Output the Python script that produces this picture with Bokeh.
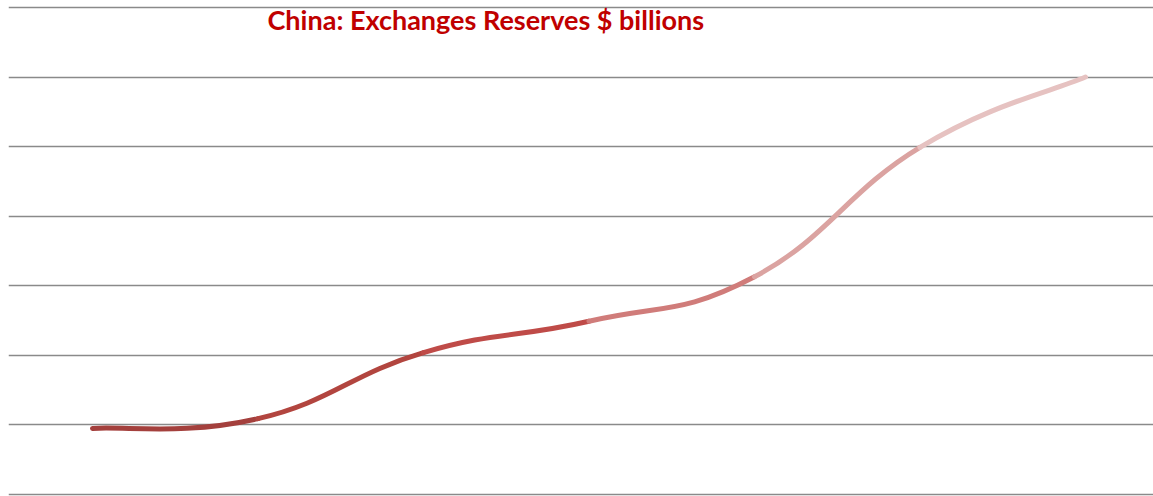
from bokeh.plotting import figure
from bokeh.models import ColumnDataSource, FixedTicker, Label, Range1d
from bokeh.embed import file_html
from bokeh.resources import INLINE

# ---- data ----
periods = [0, 1, 2, 3, 4, 5, 6]
reserves = [475, 545, 1020, 1245, 1565, 2495, 3000]
segment_colors = ["#A4403D", "#B2453F", "#BF4B48", "#D07C7A", "#DBA3A1", "#E6C2C1"]
grid_ticks = [0, 500, 1000, 1500, 2000, 2500, 3000, 3500]
title_text = "China: Exchanges Reserves $ billions"

W, H = 1153, 496
LEFT = 8
px_y = 3500 / 487.0
y_end = 3500 + 7 * px_y
y_start = y_end - H * px_y
px_x = 993 / 6.0
x_start = 0 - (92 - LEFT) / px_x
x_end = x_start + (W - LEFT) / px_x

p = figure(width=W, height=H, output_backend="svg", toolbar_location=None,
           x_range=Range1d(x_start, x_end), y_range=Range1d(y_start, y_end),
           min_border=0, min_border_left=LEFT, min_border_right=0,
           min_border_top=0, min_border_bottom=0)
p.outline_line_color = None
p.axis.visible = False
p.xgrid.visible = False
p.ygrid.ticker = FixedTicker(ticks=grid_ticks)
p.ygrid.grid_line_color = "#8A8A8A"
p.ygrid.grid_line_width = 1.6
p.background_fill_color = "white"
p.border_fill_color = "white"

# smooth curve through the points (Catmull-Rom style Bezier segments)
k = 0.22
n = len(periods)
x0, y0, x1, y1, cx0, cy0, cx1, cy1 = ([] for _ in range(8))
for i in range(n - 1):
    pm = max(i - 1, 0)
    pp = min(i + 2, n - 1)
    x0.append(periods[i]); y0.append(reserves[i])
    x1.append(periods[i + 1]); y1.append(reserves[i + 1])
    cx0.append(periods[i] + k * (periods[i + 1] - periods[pm]))
    cy0.append(reserves[i] + k * (reserves[i + 1] - reserves[pm]))
    cx1.append(periods[i + 1] - k * (periods[pp] - periods[i]))
    cy1.append(reserves[i + 1] - k * (reserves[pp] - reserves[i]))

src = ColumnDataSource(dict(x0=x0, y0=y0, x1=x1, y1=y1, cx0=cx0, cy0=cy0,
                            cx1=cx1, cy1=cy1, color=segment_colors))
p.bezier(x0="x0", y0="y0", x1="x1", y1="y1", cx0="cx0", cy0="cy0",
         cx1="cx1", cy1="cy1", line_color="color", line_width=5,
         line_cap="round", source=src)

p.add_layout(Label(x=267 - LEFT, y=H - 19, x_units="screen", y_units="screen",
                   text=title_text, text_font="Lato", text_font_style="bold",
                   text_font_size="27px", text_color="#C00000",
                   text_baseline="alphabetic", text_align="left"))

open("out.html", "w").write(file_html(p, INLINE))
